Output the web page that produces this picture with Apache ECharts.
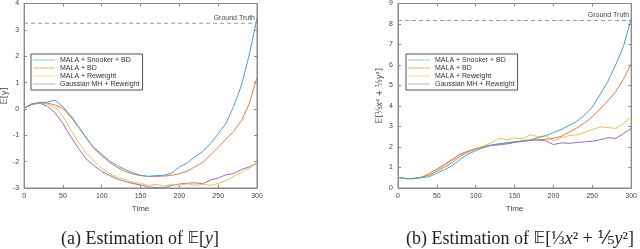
<!DOCTYPE html>
<html>
<head>
<meta charset="utf-8">
<script src="https://cdn.jsdelivr.net/npm/echarts@6/dist/echarts.min.js"></script>
<style>html,body{margin:0;padding:0;background:#fff}#c{width:640px;height:249px}</style>
</head>
<body>
<div id="c"></div>
<script>
// ---- data ----
const time = [0,10,20,30,40,50,60,70,80,90,100,110,120,130,140,150,160,170,180,190,200,210,220,230,240,250,260,270,280,290,300];
const seriesNames = ['MALA + Snooker + BD','MALA + BD','MALA + Reweight','Gaussian MH + Reweight'];
// Panel (a): E[y]
const aSnooker = [0.03,0.2,0.23,0.26,0.33,0.08,-0.25,-0.67,-1.1,-1.47,-1.72,-1.97,-2.15,-2.3,-2.42,-2.52,-2.56,-2.53,-2.52,-2.44,-2.2,-2.05,-1.82,-1.62,-1.32,-0.95,-0.55,0.1,0.9,2.05,3.45];
const aBD      = [0.03,0.18,0.24,0.22,0.15,0.02,-0.3,-0.68,-1.1,-1.5,-1.78,-2.02,-2.22,-2.37,-2.47,-2.53,-2.56,-2.56,-2.55,-2.52,-2.46,-2.36,-2.2,-2.03,-1.75,-1.45,-1.15,-0.85,-0.45,0.2,1.2];
const aRew     = [0.03,0.18,0.24,0.18,0.05,-0.28,-0.8,-1.25,-1.68,-1.98,-2.25,-2.45,-2.6,-2.68,-2.78,-2.82,-2.9,-2.86,-2.94,-2.85,-2.9,-2.84,-2.9,-2.86,-2.9,-2.82,-2.72,-2.56,-2.4,-2.24,-2.05];
const aGauss   = [0.03,0.17,0.22,0.1,-0.15,-0.55,-1.05,-1.5,-1.9,-2.15,-2.38,-2.52,-2.66,-2.75,-2.83,-2.88,-2.96,-2.98,-3.0,-2.9,-2.85,-2.82,-2.8,-2.84,-2.7,-2.62,-2.5,-2.45,-2.3,-2.2,-2.05];
const aTruth = 3.25;
// Panel (b): E[x^2/3 + y^2/5]
const bSnooker = [0.52,0.46,0.45,0.5,0.55,0.72,0.9,1.1,1.4,1.65,1.82,1.97,2.08,2.15,2.2,2.25,2.3,2.35,2.45,2.55,2.7,2.85,3.05,3.25,3.55,3.95,4.55,5.2,6.0,6.9,8.25];
const bBD      = [0.52,0.46,0.46,0.52,0.62,0.82,1.02,1.25,1.55,1.75,1.9,2.0,2.1,2.15,2.2,2.25,2.28,2.32,2.35,2.38,2.42,2.52,2.72,2.93,3.17,3.47,3.85,4.25,4.7,5.3,6.06];
const bRew     = [0.52,0.45,0.46,0.52,0.68,0.88,1.1,1.35,1.6,1.78,1.9,2.05,2.2,2.42,2.35,2.45,2.4,2.6,2.5,2.55,2.3,2.45,2.55,2.6,2.7,2.85,2.98,2.95,2.9,3.15,3.47];
const bGauss   = [0.52,0.46,0.47,0.53,0.7,0.92,1.15,1.4,1.65,1.8,1.92,2.02,2.08,2.1,2.15,2.22,2.28,2.32,2.35,2.3,2.12,2.2,2.18,2.22,2.25,2.28,2.35,2.45,2.42,2.65,2.9];
const bTruth = 8.17;

const colors = ['#4b9fd3','#d9804c','#efbf55','#9a6fb3'];

const chart = echarts.init(document.getElementById('c'), null, {renderer:'canvas'});
const pair = (arr) => time.map((t,i)=>[t,arr[i]]);
const axColor = '#8a8a8a';
const gridDefs = [
  {left:22, right:383, top:3, bottom:61, show:true, borderColor:axColor, borderWidth:1, backgroundColor:'transparent'},
  {left:398, right:7, top:3, bottom:61, show:true, borderColor:axColor, borderWidth:1, backgroundColor:'transparent'}
];
const labelStyle = {color:'#444', fontSize:7, fontFamily:'Liberation Sans, Arial'};
function xAx(g, top){
  return {type:'value', gridIndex:g, min:0, max:300, interval:50, position: top?'top':'bottom',
    axisLine:{show:true, onZero:false, lineStyle:{color:axColor, width:1}},
    axisTick:{show:true, inside:true, length:3, lineStyle:{color:axColor}},
    axisLabel:{show:!top, ...labelStyle, margin:5},
    splitLine:{show:false},
    name: top?'':'Time', nameLocation:'middle', nameGap:17,
    nameTextStyle:{color:'#444', fontSize:8, fontFamily:'Liberation Sans, Arial'}};
}
function yAx(g, right, min, max, name){
  return {type:'value', gridIndex:g, min:min, max:max, interval:1, position: right?'right':'left',
    axisLine:{show:true, onZero:false, lineStyle:{color:axColor, width:1}},
    axisTick:{show:true, inside:true, length:3, lineStyle:{color:axColor}},
    axisLabel:{show:!right, ...labelStyle, margin:5},
    splitLine:{show:false},
    name: right?'':name, nameLocation:'middle', nameGap:14, nameRotate:90,
    nameTextStyle:{color:'#444', fontSize:8, fontFamily:'DejaVu Sans, Liberation Sans'}};
}
function lines(g, arrs, truth){
  const out = arrs.map((arr,i)=>({
    name: seriesNames[i], type:'line', xAxisIndex:g*2, yAxisIndex:g*2,
    data: pair(arr), symbol:'none', showSymbol:false, smooth:false, silent:true, animation:false,
    lineStyle:{color:colors[i], width:1}, itemStyle:{color:colors[i]}, z: 10-i
  }));
  out.push({
    name:'Ground Truth', type:'line', xAxisIndex:g*2+1, yAxisIndex:g*2+1, symbol:'none', animation:false, silent:true,
    data:[[0,truth],[300,truth]], z:1,
    lineStyle:{color:'#999', width:1, type:[4,3]},
    markLine:{silent:true, symbol:'none', animation:false,
      lineStyle:{color:'rgba(0,0,0,0)', width:1, type:'solid'},
      label:{show:true, position:'insideEndTop', formatter:'Ground Truth', color:'#444', fontSize:7, fontFamily:'Liberation Sans, Arial', distance:[2,2]},
      data:[{yAxis:truth}]}
  });
  return out;
}
function legend(left){
  return {show:true, orient:'vertical', left:left, top:54, itemWidth:22, itemHeight:1, itemGap:0,
    padding:[2,3,2,2], borderColor:'#555', borderWidth:1, backgroundColor:'#fff',
    textStyle:{color:'#333', fontSize:7, lineHeight:8, fontFamily:'Liberation Sans, Arial'},
    selectedMode:false, icon:'rect',
    itemStyle:{opacity:0.6},
    data: seriesNames.slice()
  };
}
const capFont = 'Liberation Serif, DejaVu Serif, serif';
const rich = {r:{fontSize:18, fontFamily:capFont, fontWeight:'normal', color:'#222'}, b:{fontSize:16, fontFamily:'DejaVu Sans', fontWeight:'normal', color:'#222'}, i:{fontSize:18, fontFamily:capFont, fontStyle:'italic', fontWeight:'normal', color:'#222'}};
const option = {
  backgroundColor:'#fff',
  animation:false,
  grid: gridDefs,
  xAxis: [xAx(0,false), xAx(0,true), xAx(1,false), xAx(1,true)],
  yAxis: [yAx(0,false,-3,4,'𝔼[y]'), yAx(0,true,-3,4,''), yAx(1,false,0,9,'𝔼[⅓x² + ⅕y²]'), yAx(1,true,0,9,'')],
  legend: [legend(31), legend(406)],
  title: [
    {text:'{r|(a) Estimation of }{b|𝔼}{r|[}{i|y}{r|]}', left:135, top:225, textAlign:'center', textStyle:{fontWeight:'normal', rich:rich}},
    {text:'{r|(b) Estimation of }{b|𝔼}{r|[⅓}{i|x}{r|² + ⅕}{i|y}{r|²]}', left:515, top:225, textAlign:'center', textStyle:{fontWeight:'normal', rich:rich}}
  ],
  series: [...lines(0,[aSnooker,aBD,aRew,aGauss],aTruth), ...lines(1,[bSnooker,bBD,bRew,bGauss],bTruth)]
};
chart.setOption(option);
</script>
</body>
</html>
